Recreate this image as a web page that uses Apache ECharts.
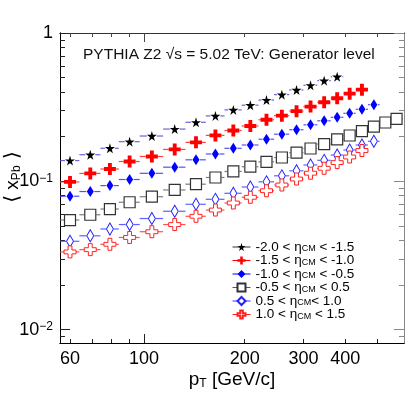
<!DOCTYPE html>
<html>
<head>
<meta charset="utf-8">
<script src="https://cdn.jsdelivr.net/npm/echarts@6/dist/echarts.min.js"></script>
<style>
html, body { margin: 0; padding: 0; background: #fff; }
#chart { width: 415px; height: 399px; }
</style>
</head>
<body>
<div id="chart"></div>
<script>
// pT bin edges [GeV/c]
var ptEdges = [56, 64, 74, 84, 97, 114, 133, 153, 174, 196, 220, 245, 272, 300, 330, 362, 395, 430, 468, 507, 548, 592];

var names = ['-2.0 < ηCM < -1.5', '-1.5 < ηCM < -1.0', '-1.0 < ηCM < -0.5',
             '-0.5 < ηCM < 0.5', '0.5 < ηCM< 1.0', '1.0 < ηCM < 1.5'];

// <x_Pb> per pT bin, one array per eta range
var xStar    = [0.138, 0.151, 0.167, 0.185, 0.202, 0.225, 0.250, 0.276, 0.303, 0.326, 0.353, 0.384, 0.413, 0.444, 0.477, 0.507];
var xCross   = [0.099, 0.113, 0.121, 0.136, 0.147, 0.164, 0.183, 0.204, 0.220, 0.236, 0.260, 0.277, 0.297, 0.319, 0.341, 0.363, 0.390, 0.415];
var xDiamond = [0.0793, 0.0853, 0.0935, 0.1028, 0.1132, 0.1245, 0.1396, 0.1528, 0.1669, 0.1757, 0.1922, 0.2078, 0.2228, 0.2404, 0.2558, 0.2701, 0.2874, 0.3059, 0.3286];
var xSquare  = [0.0548, 0.0595, 0.0650, 0.0722, 0.0787, 0.0874, 0.0956, 0.1061, 0.1165, 0.1254, 0.1353, 0.1447, 0.1559, 0.1664, 0.1781, 0.1919, 0.2036, 0.2177, 0.2334, 0.2491, 0.2638];
var xOpenDia = [0.0394, 0.0429, 0.0477, 0.0511, 0.0561, 0.0628, 0.0700, 0.0756, 0.0830, 0.0915, 0.0992, 0.1089, 0.1177, 0.1288, 0.1385, 0.1504, 0.1626, 0.1757, 0.1861];
var xOpenCrs = [0.0334, 0.0346, 0.0376, 0.0418, 0.0457, 0.0511, 0.0581, 0.0640, 0.0714, 0.0780, 0.0864, 0.0944, 0.1036, 0.1134, 0.1224, 0.1337, 0.1458, 0.1613];

var xTickMinor = [60, 70, 80, 90, 200, 300, 400, 500];
var xTickMajor = [100];
var xLabels = [60, 100, 200, 300, 400];
var yTickMinor = [0.009, 0.02, 0.03, 0.04, 0.05, 0.06, 0.07, 0.08, 0.09, 0.2, 0.3, 0.4, 0.5, 0.6, 0.7, 0.8, 0.9];
var yTickMajor = [0.01, 0.1, 1];

var STAR = 'path://M50,0 L61,35 L98,35 L68,57 L79,91 L50,70 L21,91 L32,57 L2,35 L39,35 Z';
var CROSS = 'path://M34,0 H66 V34 H100 V66 H66 V100 H34 V66 H0 V34 H34 Z';

var styles = [
    { symbol: STAR, size: [10, 10], fill: '#000', border: '#000', bw: 0, bar: '#4a4ad8', leg: '#333', gap: 5 },
    { symbol: CROSS, size: [12, 12], fill: '#ff0000', border: '#ff0000', bw: 0, bar: '#f22', leg: '#f00', gap: 6 },
    { symbol: 'diamond', size: [7, 11], fill: '#0000ff', border: '#0000ff', bw: 0, bar: '#33f', leg: '#00f', gap: 4 },
    { symbol: 'rect', size: [11, 11], fill: '#fff', border: '#333', bw: 1.2, bar: '#666', leg: '#555', gap: 6 },
    { symbol: 'diamond', size: [7, 12], fill: '#fff', border: '#2020ff', bw: 1, bar: '#44f', leg: '#33f', gap: 4 },
    { symbol: CROSS, size: [12, 12], fill: '#fff', border: '#ff2020', bw: 1, bar: '#f33', leg: '#f22', gap: 6 }
];
var values = [xStar, xCross, xDiamond, xSquare, xOpenDia, xOpenCrs];

var chart = echarts.init(document.getElementById('chart'), null, { renderer: 'canvas' });

var FONT = 'Liberation Sans, Arial, sans-serif';
var series = [];
var legendData = [];

values.forEach(function (vals, k) {
    var st = styles[k];
    var pts = [], bars = [];
    vals.forEach(function (v, i) {
        var lo = ptEdges[i], hi = ptEdges[i + 1];
        var c = (lo + hi) / 2;
        pts.push([c, v]);
        bars.push([c, lo, v, hi]);
    });
    series.push({
        type: 'custom',
        name: 'err' + k,
        xAxisIndex: 0,
        yAxisIndex: 0,
        z: 2,
        silent: true,
        encode: { x: 0, y: 2 },
        data: bars,
        renderItem: function (params, api) {
            var c = api.coord([api.value(0), api.value(2)]);
            var l = api.coord([api.value(1), api.value(2)]);
            var h = api.coord([api.value(3), api.value(2)]);
            var ls = { stroke: st.bar, lineWidth: 1.2, opacity: 0.85 };
            return {
                type: 'group',
                children: [
                    { type: 'line', shape: { x1: l[0], y1: c[1], x2: c[0] - st.gap, y2: c[1] }, style: ls },
                    { type: 'line', shape: { x1: c[0] + st.gap, y1: c[1], x2: h[0], y2: c[1] }, style: ls }
                ]
            };
        }
    });
    series.push({
        type: 'line',
        name: names[k],
        xAxisIndex: 0,
        yAxisIndex: 0,
        z: 3,
        data: pts,
        symbol: st.symbol,
        symbolSize: st.size,
        showSymbol: true,
        lineStyle: { width: 1, opacity: 0, color: st.leg },
        itemStyle: { color: st.fill, borderColor: st.border, borderWidth: st.bw, opacity: 1 },
        emphasis: { disabled: true }
    });
    legendData.push({ name: names[k], lineStyle: { color: st.leg, width: 1, opacity: 1 } });
});

function logAxis(pos, grid, min, max, ticks, len, lineColor, tickColor) {
    return {
        type: 'log', logBase: 10, gridIndex: grid, position: pos, min: min, max: max,
        axisLine: { show: true, lineStyle: { color: lineColor, width: 1 } },
        axisTick: { show: true, inside: true, length: len, customValues: ticks, lineStyle: { color: tickColor, width: 1 } },
        axisLabel: { show: false },
        splitLine: { show: false },
        minorTick: { show: false }
    };
}

var xMin = 56, xMax = 600, yMin = 0.00812, yMax = 1;

var xBottom = logAxis('bottom', 0, xMin, xMax, xTickMinor, 4, '#000', '#222');
xBottom.axisLabel = {
    show: true, customValues: xLabels, margin: 7, color: '#000', fontSize: 18, fontFamily: FONT
};
xBottom.name = '{p|p}{s|T}{p| [GeV/c]}';
xBottom.nameLocation = 'middle';
xBottom.nameGap = 27;
xBottom.nameMoveOverlap = false;
xBottom.nameTextStyle = {
    color: '#000', fontFamily: FONT,
    rich: {
        p: { fontSize: 19, lineHeight: 20, fontFamily: FONT, color: '#000' },
        s: { fontSize: 12, lineHeight: 4, verticalAlign: 'bottom', fontFamily: FONT, color: '#000' }
    }
};

var yLeft = logAxis('left', 0, yMin, yMax, yTickMinor, 5, '#000', '#222');
yLeft.axisLabel = {
    show: true, customValues: yTickMajor, margin: 7, color: '#000', fontFamily: FONT,
    formatter: function (v) {
        var e = Math.round(Math.log10(v));
        return e === 0 ? '{b|1}' : '{b|10}{u|\u2212' + (-e) + '}';
    },
    rich: {
        b: { fontSize: 18, lineHeight: 18, fontFamily: FONT, color: '#000' },
        u: { fontSize: 12, lineHeight: 7, verticalAlign: 'top', fontFamily: FONT, color: '#000' }
    }
};
yLeft.name = '{a|\u27E8}{x| x}{s|Pb}{a| \u27E9}';
yLeft.nameLocation = 'middle';
yLeft.nameRotate = 90;
yLeft.nameGap = 37;
yLeft.nameMoveOverlap = false;
yLeft.nameTextStyle = {
    color: '#000', fontFamily: FONT, padding: [0, 0, 0, 22],
    rich: {
        a: { fontSize: 20, lineHeight: 20, fontFamily: 'DejaVu Sans', color: '#000' },
        x: { fontSize: 19, lineHeight: 20, fontFamily: FONT, color: '#000' },
        s: { fontSize: 12, lineHeight: 4, verticalAlign: 'bottom', fontFamily: FONT, color: '#000' }
    }
};

var option = {
    animation: false,
    backgroundColor: '#fff',
    title: {
        text: 'PYTHIA Z2 \u221As = 5.02 TeV: Generator level',
        left: 78, top: 42,
        textStyle: { fontSize: 15.5, fontWeight: 'normal', color: '#111', fontFamily: FONT }
    },
    legend: {
        orient: 'vertical',
        left: 227, top: 235,
        itemWidth: 18, itemHeight: 10, itemGap: -0.5,
        selectedMode: false,
        data: legendData,
        lineStyle: { opacity: 1, width: 1 },
        formatter: function (n) {
            return '{t|' + n.replace('ηCM', 'η}{s|CM}{t|') + '}';
        },
        textStyle: {
            color: '#000', fontFamily: FONT,
            rich: {
                t: { fontSize: 13.5, lineHeight: 12.7, fontFamily: FONT, color: '#000' },
                s: { fontSize: 9, lineHeight: 5, verticalAlign: 'bottom', fontFamily: FONT, color: '#000' }
            }
        }
    },
    grid: [
        { left: 60, right: 11, top: 33, bottom: 56, containLabel: false, outerBoundsMode: 'none' },
        { left: 60, right: 11, top: 33, bottom: 56, containLabel: false, outerBoundsMode: 'none' }
    ],
    xAxis: [
        xBottom,
        logAxis('top', 0, xMin, xMax, xTickMinor, 4, '#333', '#444'),
        logAxis('bottom', 1, xMin, xMax, xTickMajor, 9, '#000', '#222'),
        logAxis('top', 1, xMin, xMax, xTickMajor, 9, '#333', '#444')
    ],
    yAxis: [
        yLeft,
        logAxis('right', 0, yMin, yMax, yTickMinor, 5, '#888', '#888'),
        logAxis('left', 1, yMin, yMax, yTickMajor, 10, '#000', '#222'),
        logAxis('right', 1, yMin, yMax, yTickMajor, 10, '#888', '#888')
    ],
    series: series
};

chart.setOption(option);
</script>
</body>
</html>
